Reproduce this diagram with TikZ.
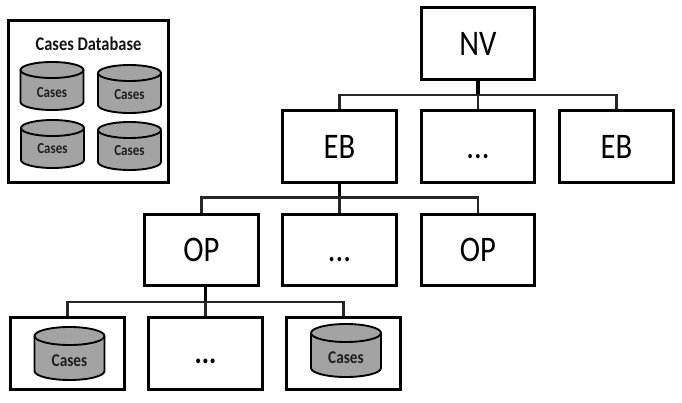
\documentclass[tikz,border=0pt]{standalone}
\usepackage{fontspec}
\setmainfont[FakeStretch=0.85]{Carlito}
\tikzset{
  x=0.75pt,y=-0.75pt,
  box/.style={draw=black,line width=2.1pt,fill=white,minimum width=85pt,minimum height=53.5pt,inner sep=0pt,font=\fontsize{27}{27}\selectfont,text=black,text height=17.4pt,text depth=0pt},
  link/.style={draw=black!85,line width=2pt},
  trunk/.style={draw=black,line width=2.4pt},
  cyltext/.style={font=\bfseries\fontsize{11.5}{12}\selectfont,text=black!88,inner sep=0pt},
  cylbig/.style={font=\bfseries\fontsize{13.5}{14}\selectfont,text=black!88,inner sep=0pt},
  pics/dbcyl/.style args={#1/#2/#3}{code={
    \path[fill=black!36,draw=black,line width=1.4pt]
      (-#1,0) -- (-#1,#2) arc[start angle=180,end angle=360,x radius=#1*0.75pt,y radius=#3*0.75pt]
      -- (#1,0) arc[start angle=0,end angle=180,x radius=#1*0.75pt,y radius=#3*0.75pt] -- cycle;
    \path[draw=black,line width=1.4pt]
      (-#1,0) arc[start angle=180,end angle=360,x radius=#1*0.75pt,y radius=#3*0.75pt];
  }}
}
\begin{document}
\begin{tikzpicture}
\useasboundingbox (0,0) rectangle (682,403);
\fill[white] (0,0) rectangle (682,403);
% top tree
\node[box] (nv) at (478,43.5) {NV};
\node[box] (eba) at (339.5,146.5) {EB};
\node[box] (ebd) at (478,146.5) {...};
\node[box] (ebb) at (616.5,146.5) {EB};
\node[box] (opa) at (201.5,250) {OP};
\node[box] (opd) at (339.5,250) {...};
\node[box] (opb) at (478,250) {OP};
\node[box] (la) at (67.5,353.5) {};
\node[box] (ld) at (205.5,353.5) {};
\node[box] (lb) at (343.5,353.5) {};
\node[font=\bfseries\fontsize{24}{24}\selectfont,inner sep=0pt] (ldt) at (205.5,361) {...};
% connectors
\coordinate (bus1) at (478,95);
\coordinate (bus2) at (339.5,197.5);
\coordinate (bus3) at (205.5,302);
\draw[trunk] (nv.south) -- (bus1);
\draw[link] (eba.north) |- (bus1) -| (ebb.north);
\draw[link] (bus1) -- (ebd.north);
\draw[trunk] (eba.south) -- (bus2);
\draw[link] (opa.north) |- (bus2) -| (opb.north);
\draw[link] (bus2) -- (opd.north);
\draw[trunk] (bus3|-opa.south) -- (bus3);
\draw[link] (la.north) |- (bus3) -| (lb.north);
\draw[link] (bus3) -- (ld.north);
% leaf cylinders
\pic at (69.5,336) {dbcyl=35/35/9};
\node[cylbig] (lac) at (69.5,361) {Cases};
\pic at (346,333) {dbcyl=35/35/9};
\node[cylbig] (lbc) at (346,358) {Cases};
% database
\node[draw=black,line width=2.1pt,fill=white,minimum width=120pt,minimum height=121.5pt,inner sep=0pt] (db) at (88.5,101.5) {};
\node[font=\bfseries\fontsize{14.5}{15}\selectfont,text=black!92,inner sep=0pt] (dbt) at (88.5,43.5) {Cases Database};
\pic at (52,70) {dbcyl=31.5/32/8};
\pic at (129.5,73) {dbcyl=31.5/32/8};
\pic at (52.5,128) {dbcyl=31.5/32/8};
\pic at (129.5,130) {dbcyl=31.5/32/8};
\node[cyltext] (c1) at (52,93) {Cases};
\node[cyltext] (c2) at (129.5,95) {Cases};
\node[cyltext] (c3) at (52.5,149) {Cases};
\node[cyltext] (c4) at (129.5,151) {Cases};
\end{tikzpicture}
\end{document}
